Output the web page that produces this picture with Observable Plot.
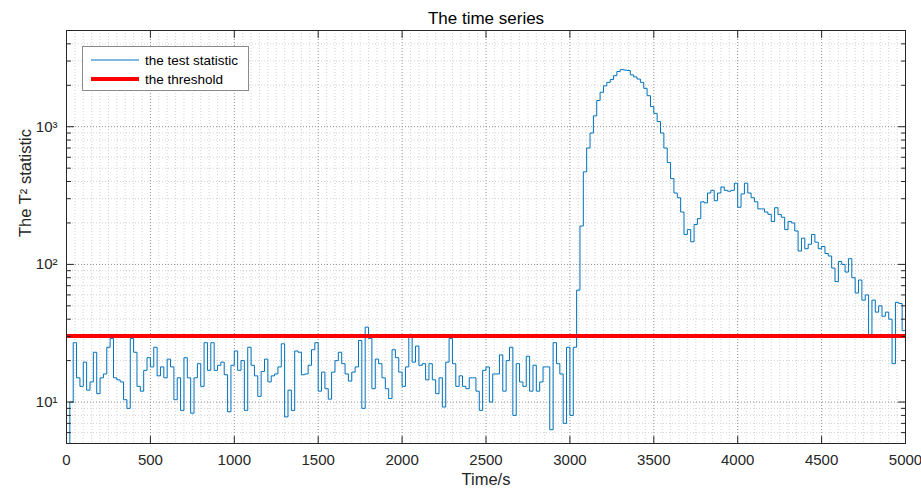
<!DOCTYPE html>
<html>
<head>
<meta charset="utf-8">
<script src="https://cdn.jsdelivr.net/npm/d3@7"></script>
<script src="https://cdn.jsdelivr.net/npm/@observablehq/plot@0.6"></script>
<style>
  html, body { margin: 0; padding: 0; background: #fff; }
  #wrap { position: relative; width: 921px; height: 490px; overflow: hidden; font-family: "Liberation Sans", Arial, sans-serif; }
  #legend { position: absolute; left: 82px; top: 46px; }
</style>
</head>
<body>
<div id="wrap"></div>
<script>
// ---- data ----
const timeStep = 20; // seconds between samples
const statValues = [
  5, 10, 27, 15, 13, 19.5, 12.2, 14, 23, 11.5,
  15, 16, 25, 29, 15, 14.5, 14, 10.4, 9, 29,
  23, 13, 12, 17, 21, 18, 25, 15.5, 18, 15,
  20.5, 18, 10.4, 15, 8.7, 21, 15, 8.3, 15, 19,
  13, 27, 17, 27, 17, 18.5, 19.5, 15.8, 8.5, 18.5,
  23.5, 17, 20, 8.7, 25, 18.5, 15.5, 11, 16.7, 20.5,
  14, 15.5, 16, 18, 26.5, 7.8, 12.2, 8.7, 23.5, 23,
  15.8, 16, 18.5, 24, 27, 12, 16.5, 12.5, 10.5, 16.5,
  20, 23, 19, 16, 14.2, 16.5, 18, 28, 9, 35,
  29, 12.5, 20.5, 19, 15, 12.5, 10.6, 24, 21, 16.5,
  13, 18, 31, 19.5, 25.5, 18.5, 19, 14.5, 19, 14.5,
  11.5, 15, 9.2, 19.5, 29, 19, 13, 15.5, 13, 12.5,
  15, 15, 12, 8.7, 17, 18, 10, 16, 16, 22,
  12, 20, 25, 8, 19, 14, 13, 21.5, 12, 18.5,
  12, 14, 18, 18, 6.3, 27, 19, 16, 7, 25,
  8, 25, 65, 190, 470, 700, 900, 1200, 1550, 1780,
  1980, 2100, 2200, 2350, 2520, 2600, 2580, 2560, 2380, 2300,
  2220, 2100, 1900, 1680, 1400, 1250, 1090, 900, 700, 550,
  420, 330, 305, 240, 165, 179, 146, 195, 215, 285,
  280, 330, 345, 290, 330, 365, 345, 340, 345, 389,
  260, 325, 389, 330, 305, 285, 253, 253, 240, 231,
  205, 258, 230, 220, 179, 205, 200, 175, 125, 155,
  130, 140, 165, 145, 130, 135, 120, 115, 94, 75,
  105, 100, 88, 110, 80, 62, 77, 55, 60, 31,
  55, 45, 50, 42, 45, 40, 19, 53, 52, 33,
  17
];
const thresholdValue = 30.2;
const xTickValues = [0, 500, 1000, 1500, 2000, 2500, 3000, 3500, 4000, 4500, 5000];
const yTickValues = [10, 100, 1000];
const yTickLabels = ["10\u00B9", "10\u00B2", "10\u00B3"];
const xDomain = [0, 5000];
const yDomain = [5, 5000];
const titleText = "The time series";
const xLabelText = "Time/s";
const yLabelText = "The T\u00B2 statistic";
const legendLabels = ["the test statistic", "the threshold"];
const seriesColor = "#0072BD";
const thresholdColor = "#FF0000";

// ---- derived tables ----
const series = statValues.map((v, i) => ({time: i * timeStep, value: v}));
const xMinor = d3.range(xDomain[0], xDomain[1] + 1, 50).filter(v => !xTickValues.includes(v));
const yMinor = [];
[1, 10, 100, 1000].forEach(d => {
  for (let m = 2; m <= 9; m++) {
    const v = d * m;
    if (v >= yDomain[0] && v <= yDomain[1]) yMinor.push(v);
  }
});

const font = "Liberation Sans, Arial, Helvetica, sans-serif";
const axisColor = "#262626";
const tickShape = {draw(context, l) { context.moveTo(0, 0); context.lineTo(0, -l); }};
const tickOpts = {shape: tickShape, anchor: "start", stroke: axisColor, strokeWidth: 1};

const chart = Plot.plot({
  width: 921,
  height: 490,
  marginLeft: 66,
  marginRight: 16,
  marginTop: 30,
  marginBottom: 47,
  style: {fontFamily: font, fontSize: "15px", color: axisColor, background: "#fff"},
  x: {domain: xDomain, label: null},
  y: {type: "log", domain: yDomain, label: null},
  marks: [
    // grid
    Plot.ruleX(xMinor, {stroke: "#d4d4d4", strokeDasharray: "1,2"}),
    Plot.ruleY(yMinor, {stroke: "#d4d4d4", strokeDasharray: "1,2"}),
    Plot.ruleX(xTickValues, {stroke: "#8f8f8f", strokeDasharray: "1,2"}),
    Plot.ruleY(yTickValues, {stroke: "#8f8f8f", strokeDasharray: "1,2"}),
    // data
    Plot.line(series, {x: "time", y: "value", curve: "step-after", stroke: seriesColor, strokeWidth: 1}),
    Plot.ruleY([thresholdValue], {stroke: thresholdColor, strokeWidth: 4}),
    // box
    Plot.frame({stroke: axisColor, strokeWidth: 1}),
    // axes: labels only
    Plot.axisX({anchor: "bottom", ticks: xTickValues, tickSize: 0, tickPadding: 11, tickFormat: d => String(d), fontSize: 15, fill: axisColor}),
    Plot.axisY({anchor: "left", ticks: yTickValues, tickSize: 0, tickPadding: 9, tickFormat: d => yTickLabels[yTickValues.indexOf(d)], fontSize: 15, fill: axisColor}),
    // inward ticks
    Plot.vector(xTickValues, {x: d => d, frameAnchor: "bottom", rotate: 0, length: 7, ...tickOpts}),
    Plot.vector(xTickValues, {x: d => d, frameAnchor: "top", rotate: 180, length: 7, ...tickOpts}),
    Plot.vector(yTickValues, {y: d => d, frameAnchor: "left", rotate: 90, length: 7, ...tickOpts}),
    Plot.vector(yTickValues, {y: d => d, frameAnchor: "right", rotate: -90, length: 7, ...tickOpts}),
    Plot.vector(yMinor, {y: d => d, frameAnchor: "left", rotate: 90, length: 4, ...tickOpts}),
    Plot.vector(yMinor, {y: d => d, frameAnchor: "right", rotate: -90, length: 4, ...tickOpts}),
    // titles
    Plot.text([titleText], {text: d => d, frameAnchor: "top", lineAnchor: "middle", dy: -12, fontSize: 17, fill: "#000"}),
    Plot.text([xLabelText], {text: d => d, frameAnchor: "bottom", lineAnchor: "middle", dy: 36, fontSize: 16.5, fill: axisColor}),
    Plot.text([yLabelText], {text: d => d, frameAnchor: "left", lineAnchor: "middle", dx: -41, rotate: -90, fontSize: 16.5, fill: axisColor})
  ]
});

const wrap = document.getElementById("wrap");
wrap.appendChild(chart);

// legend overlay
const lw = 167, lh = 45;
const legend = d3.select(wrap).append("svg")
  .attr("id", "legend").attr("width", lw).attr("height", lh)
  .style("font-family", font);
legend.append("rect").attr("x", 0.5).attr("y", 0.5).attr("width", lw - 1).attr("height", lh - 1)
  .attr("fill", "#fff").attr("stroke", "#8a8a8a").attr("stroke-width", 1);
const legendItems = [
  {label: legendLabels[0], color: seriesColor, width: 1, y: 14},
  {label: legendLabels[1], color: thresholdColor, width: 4, y: 33}
];
legendItems.forEach(it => {
  legend.append("line").attr("x1", 9).attr("x2", 57).attr("y1", it.y).attr("y2", it.y)
    .attr("stroke", it.color).attr("stroke-width", it.width);
  legend.append("text").attr("x", 63).attr("y", it.y).attr("dy", "0.35em")
    .attr("font-size", 13.5).attr("fill", "#000").text(it.label);
});
</script>
</body>
</html>
